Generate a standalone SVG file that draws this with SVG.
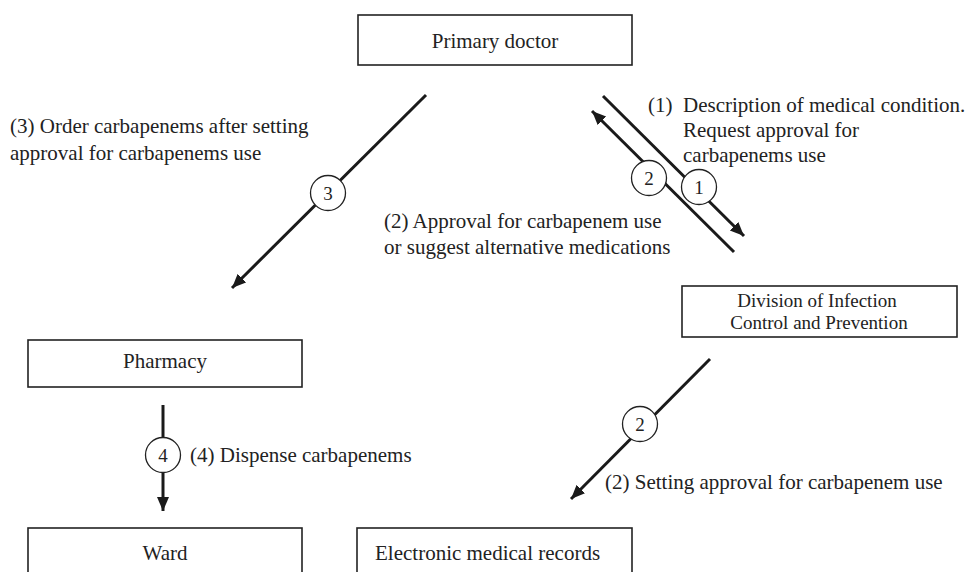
<svg xmlns="http://www.w3.org/2000/svg" width="967" height="572" viewBox="0 0 967 572">
<style>
.box{fill:#fff;stroke:#222;stroke-width:1.6}
.t{font-family:"Liberation Serif","Times New Roman",serif;font-size:21px;fill:#222}
.s{font-size:19px}
.n{font-family:"Liberation Serif","Times New Roman",serif;font-size:19px;fill:#222;text-anchor:middle}
.c{text-anchor:middle}
.ln{stroke:#1a1a1a;stroke-width:3;fill:none}
.num{fill:#fff;stroke:#222;stroke-width:1.3}
</style>
<defs>
<marker id="ah" markerUnits="userSpaceOnUse" markerWidth="16" markerHeight="14" refX="14" refY="6" orient="auto"><path d="M0,0 L14,6 L0,12 Z" fill="#1a1a1a"/></marker>
</defs>
<rect width="967" height="572" fill="#fff"/>
<g id="connectors">
<line class="ln" x1="426" y1="95" x2="232" y2="288" marker-end="url(#ah)"/>
<line class="ln" x1="603" y1="96" x2="744" y2="236" marker-end="url(#ah)"/>
<line class="ln" x1="734" y1="252" x2="592" y2="111" marker-end="url(#ah)"/>
<line class="ln" x1="710" y1="359" x2="571" y2="499" marker-end="url(#ah)"/>
<line class="ln" x1="163" y1="405" x2="163" y2="511" marker-end="url(#ah)"/>
<circle class="num" cx="328" cy="193" r="17.5"/><text class="n" x="328" y="200">3</text>
<circle class="num" cx="699" cy="187" r="17.5"/><text class="n" x="699" y="194">1</text>
<circle class="num" cx="649" cy="178" r="17.5"/><text class="n" x="649" y="185">2</text>
<circle class="num" cx="640" cy="424" r="17.5"/><text class="n" x="640" y="431">2</text>
<circle class="num" cx="163" cy="455" r="17.5"/><text class="n" x="163" y="462">4</text>
</g>
<g id="labels">
<text class="t" x="10" y="133">(3) Order carbapenems after setting</text>
<text class="t" x="10" y="160">approval for carbapenems use</text>
<text class="t" x="648" y="112">(1)<tspan x="683">Description of medical condition.</tspan></text>
<text class="t" x="683" y="137">Request approval for</text>
<text class="t" x="683" y="162">carbapenems use</text>
<text class="t" x="384" y="228">(2) Approval for carbapenem use</text>
<text class="t" x="384" y="254">or suggest alternative medications</text>
<text class="t" x="190" y="462">(4) Dispense carbapenems</text>
<text class="t" x="605" y="489">(2) Setting approval for carbapenem use</text>
</g>
<g id="primary-doctor"><rect class="box" x="358" y="15" width="274" height="50"/><text class="t c" x="495" y="48">Primary doctor</text></g>
<g id="division"><rect class="box" x="682" y="286" width="275" height="51"/><text class="t s c" x="817" y="307">Division of Infection</text><text class="t s c" x="819" y="329">Control and Prevention</text></g>
<g id="pharmacy"><rect class="box" x="28" y="340" width="274" height="47"/><text class="t c" x="165" y="368">Pharmacy</text></g>
<g id="ward"><rect class="box" x="28" y="528" width="274" height="60"/><text class="t c" x="165" y="560">Ward</text></g>
<g id="emr"><rect class="box" x="357" y="528" width="275" height="60"/><text class="t" x="375" y="560">Electronic medical records</text></g>
</svg>
